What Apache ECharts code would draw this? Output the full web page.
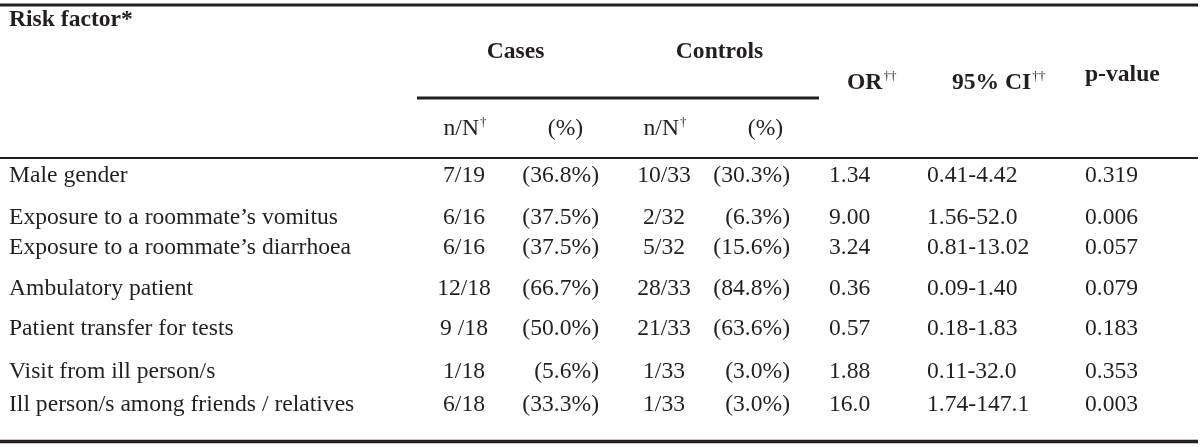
<!DOCTYPE html>
<html>
<head>
<meta charset="utf-8">
<script src="https://cdn.jsdelivr.net/npm/echarts@6/dist/echarts.min.js"></script>
<style>
html,body{margin:0;padding:0;background:#ffffff;}
#chart{width:1200px;height:447px;}
</style>
</head>
<body>
<div id="chart"></div>
<script>
// ---------------- DATA ----------------
const riskFactors = [
  "Male gender",
  "Exposure to a roommate\u2019s vomitus",
  "Exposure to a roommate\u2019s diarrhoea",
  "Ambulatory patient",
  "Patient transfer for tests",
  "Visit from ill person/s",
  "Ill person/s among friends / relatives"
];
const casesN      = ["7/19", "6/16", "6/16", "12/18", "9 /18", "1/18", "6/18"];
const casesPct    = ["(36.8%)", "(37.5%)", "(37.5%)", "(66.7%)", "(50.0%)", "(5.6%)", "(33.3%)"];
const controlsN   = ["10/33", "2/32", "5/32", "28/33", "21/33", "1/33", "1/33"];
const controlsPct = ["(30.3%)", "(6.3%)", "(15.6%)", "(84.8%)", "(63.6%)", "(3.0%)", "(3.0%)"];
const oddsRatio   = ["1.34", "9.00", "3.24", "0.36", "0.57", "1.88", "16.0"];
const ci95        = ["0.41-4.42", "1.56-52.0", "0.81-13.02", "0.09-1.40", "0.18-1.83", "0.11-32.0", "1.74-147.1"];
const pValue      = ["0.319", "0.006", "0.057", "0.079", "0.183", "0.353", "0.003"];

// header texts
const hRisk = "Risk factor*";
const hCases = "Cases";
const hControls = "Controls";
const hNN = "n/N";
const hPct = "(%)";
const hOR = "OR";
const hCI = "95% CI";
const hP = "p-value";
const dag1 = "\u2020";
const dag2 = "\u2020\u2020";

// ---------------- LAYOUT / STYLE ----------------
const FONT = "'Liberation Serif', 'Times New Roman', Times, serif";
const FS = 23.6;
const SUP_FS = 13;
const SUP_RAISE = 10;
const INK = "#231f20";
const MID = 0.3375; // middle-to-baseline offset (em)

const X_LABEL = 9;
const X_CASES_N = 464;      // center
const X_CASES_PCT = 599;    // right
const X_CTRL_N = 664;       // center
const X_CTRL_PCT = 790;     // right
const X_OR = 829;           // left
const X_CI = 927;           // left
const X_P = 1085;           // left

const rowBaseline = [184, 225.5, 255.5, 296.5, 337, 380, 413];

const ctx = document.createElement("canvas").getContext("2d");
function measure(str, size, bold) {
  ctx.font = (bold ? "bold " : "") + size + "px " + FONT;
  return ctx.measureText(str).width;
}

function txt(str, x, baseline, align, size, bold) {
  size = size || FS;
  return {
    type: "text",
    x: x,
    y: baseline - MID * size,
    silent: true,
    style: {
      text: str,
      font: (bold ? "bold " : "") + size + "px " + FONT,
      fill: INK,
      align: align,
      verticalAlign: "middle"
    }
  };
}

// text with superscript daggers
function supTxt(main, sup, x, baseline, align, bold) {
  const w1 = measure(main, FS, bold);
  const w2 = measure(sup, SUP_FS, false);
  const total = w1 + 1 + w2;
  let left = x;
  if (align === "center") left = x - total / 2;
  else if (align === "right") left = x - total;
  return [
    txt(main, left, baseline, "left", FS, bold),
    txt(sup, left + w1 + 1, baseline - SUP_RAISE, "left", SUP_FS, false)
  ];
}

function rule(x1, x2, y, w) {
  return {
    type: "line",
    silent: true,
    shape: { x1: x1, y1: y, x2: x2, y2: y },
    style: { stroke: INK, lineWidth: w }
  };
}

const headerEls = [].concat(
  [rule(0, 1198, 5, 3), rule(417, 819, 98, 3), rule(0, 1198, 158, 2.2), rule(0, 1198, 441.5, 3.5)],
  [txt(hRisk, X_LABEL, 28, "left", FS, true)],
  [txt(hCases, 515.5, 60, "center", FS, true)],
  [txt(hControls, 719.5, 60, "center", FS, true)],
  supTxt(hNN, dag1, 465, 137, "center", false),
  [txt(hPct, 565.5, 137, "center", FS, false)],
  supTxt(hNN, dag1, 665, 137, "center", false),
  [txt(hPct, 765.5, 137, "center", FS, false)],
  supTxt(hOR, dag2, 847, 91, "left", true),
  supTxt(hCI, dag2, 952, 91, "left", true),
  [txt(hP, 1085, 83, "left", FS, true)]
);

const chart = echarts.init(document.getElementById("chart"), null, { renderer: "canvas" });

chart.setOption({
  animation: false,
  backgroundColor: "#ffffff",
  graphic: { elements: headerEls },
  series: [{
    type: "custom",
    coordinateSystem: "none",
    silent: true,
    data: riskFactors.map(function (_, i) { return [i]; }),
    renderItem: function (params, api) {
      const i = api.value(0);
      const b = rowBaseline[i];
      return {
        type: "group",
        children: [
          txt(riskFactors[i], X_LABEL, b, "left"),
          txt(casesN[i], X_CASES_N, b, "center"),
          txt(casesPct[i], X_CASES_PCT, b, "right"),
          txt(controlsN[i], X_CTRL_N, b, "center"),
          txt(controlsPct[i], X_CTRL_PCT, b, "right"),
          txt(oddsRatio[i], X_OR, b, "left"),
          txt(ci95[i], X_CI, b, "left"),
          txt(pValue[i], X_P, b, "left")
        ]
      };
    }
  }]
});
</script>
</body>
</html>
